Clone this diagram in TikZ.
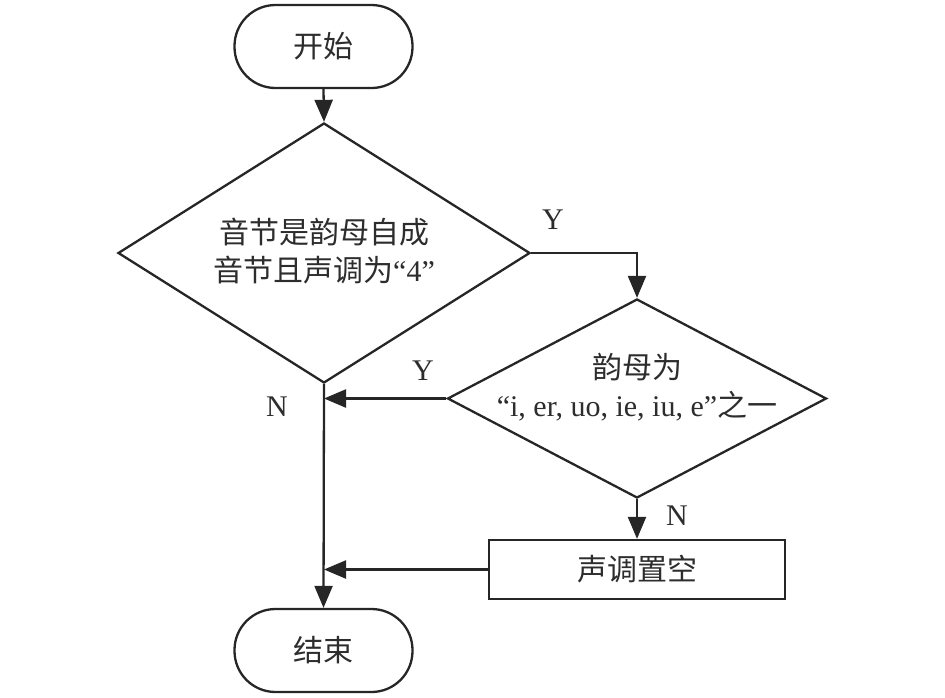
\documentclass[tikz,border=0pt]{standalone}
\usepackage{fontspec}
\setmainfont{Liberation Serif}
\newfontfamily\cjk{Noto Sans CJK SC}
\usetikzlibrary{shapes.geometric,arrows.meta}
\definecolor{ink}{RGB}{38,38,38}
\definecolor{txt}{RGB}{45,45,45}
\begin{document}
\begin{tikzpicture}[x=1pt,y=-1pt,
  line width=2.3pt, draw=ink, text=txt,
  big/.style={font=\fontsize{30}{38}\selectfont},
  terminal/.style={draw, rectangle, rounded corners=41pt, minimum width=178pt, minimum height=83pt, inner sep=0pt, big},
  decision/.style={draw, diamond, inner sep=0pt},
  process/.style={draw, rectangle, minimum width=296pt, minimum height=59pt, inner sep=0pt, big},
  txtnode/.style={align=center, inner sep=0pt, big},
  lbl/.style={inner sep=0pt, big},
  arr/.style={-{Triangle[length=22pt,width=18pt]}}
]
\useasboundingbox (0,0) rectangle (945,697);

\node[terminal] (start) at (323.5,46.5) {\cjk 开始};
\node[decision, minimum width=412pt, minimum height=260pt] (d1) at (324,253) {};
\node[txtnode] (t1) at (324,251) {{\cjk 音节是韵母自成}\\{\cjk 音节且声调为}“4”};
\node[decision, minimum width=379pt, minimum height=199pt] (d2) at (637,398.5) {};
\node[txtnode] (t2) at (637,387) {{\cjk 韵母为}\\“i, er, uo, ie, iu, e”{\cjk 之一}};
\node[process] (set) at (637,569.5) {\cjk 声调置空};
\node[terminal] (stop) at (323.5,650.5) {\cjk 结束};

\coordinate (j1) at (d1.south |- d2.west);
\coordinate (j2) at (d1.south |- set.west);

\draw[arr] (start.south) -- (d1.north);
\draw[arr] (d1.east) -| (d2.north);
\draw[arr] (d2.west) -- (j1);
\draw[arr] (d1.south) -- (stop.north);
\draw[arr] (d2.south) -- (set.north);
\draw[arr] (set.west) -- (j2);

\node[lbl] (y1) at (553,220) {Y};
\node[lbl] (y2) at (423,371) {Y};
\node[lbl] (n1) at (277,407) {N};
\node[lbl] (n2) at (677,516) {N};
\end{tikzpicture}
\end{document}
